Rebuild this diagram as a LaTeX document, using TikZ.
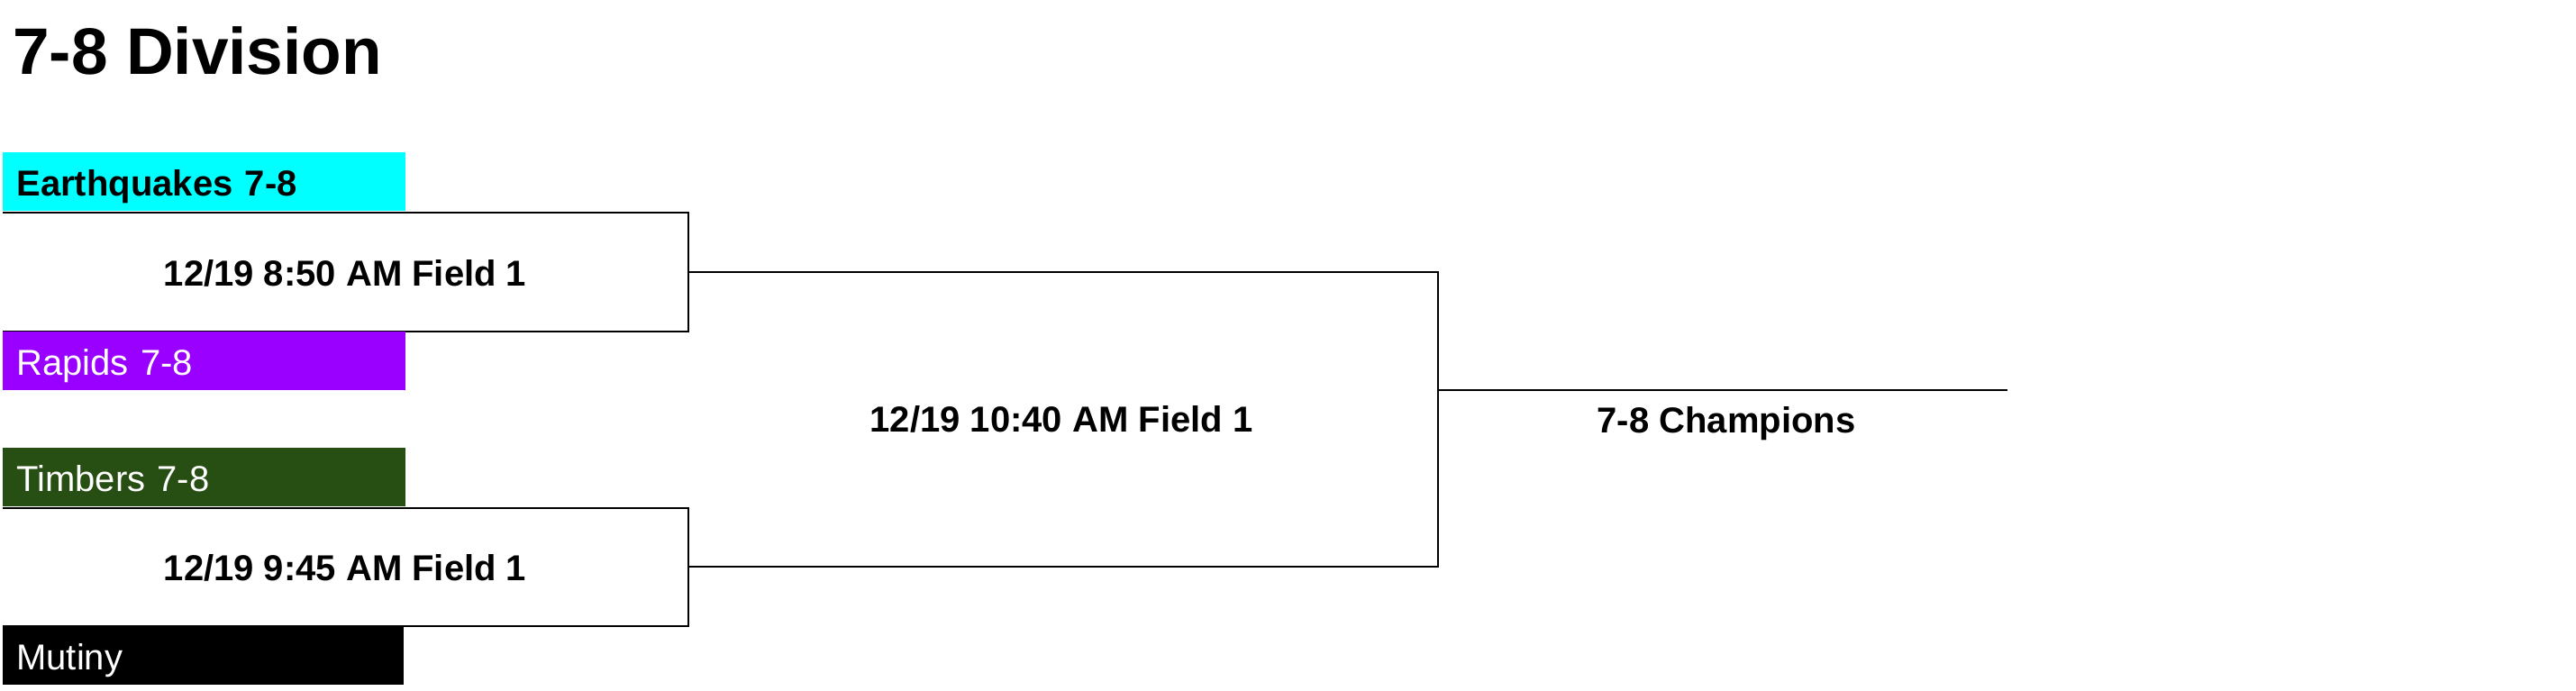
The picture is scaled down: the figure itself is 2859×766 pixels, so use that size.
\documentclass[tikz,border=0pt]{standalone}
\usepackage{fontspec}
\setmainfont{Liberation Sans}
\definecolor{eqcyan}{RGB}{0,255,255}
\definecolor{rapurple}{RGB}{153,0,255}
\definecolor{timgreen}{RGB}{39,78,19}
\begin{document}
\begin{tikzpicture}[x=0.5pt,y=-0.5pt,
  team/.style={rectangle, anchor=north west, minimum height=32.5pt,
    text width=208.5pt, inner xsep=7.5pt, inner ysep=0pt, align=left,
    text height=16pt, text depth=0pt, font=\fontsize{20pt}{22pt}\selectfont},
  match/.style={font=\fontsize{20pt}{22pt}\selectfont\bfseries, inner sep=0pt,
    text height=15.5pt, text depth=0pt},
  bline/.style={line width=1.3pt, black}]
\useasboundingbox (0,0) rectangle (2859,766);
\node[anchor=base west, inner sep=0pt, font=\fontsize{36.5pt}{40pt}\selectfont\bfseries] (title) at (14,82) {7-8 Division};
% bracket corners
\coordinate (r1a) at (3,236);
\coordinate (r1b) at (764,236);
\coordinate (r1c) at (764,368);
\coordinate (r1d) at (3,368);
\coordinate (r1e) at (3,564);
\coordinate (r1f) at (764,564);
\coordinate (r1g) at (764,695);
\coordinate (r1h) at (3,695);
\coordinate (w1) at (764,302);
\coordinate (w2) at (764,629);
\coordinate (r2a) at (1596,302);
\coordinate (r2b) at (1596,629);
\coordinate (r2c) at (1596,433);
\coordinate (champ) at (2228,433);
\draw[bline] (r1a) -- (r1b) -- (r1c) -- (r1d);
\draw[bline] (r1e) -- (r1f) -- (r1g) -- (r1h);
\draw[bline] (w1) -- (r2a) -- (r2b) -- (w2);
\draw[bline] (r2c) -- (champ);
% teams
\node[team, fill=eqcyan, font=\fontsize{20pt}{22pt}\selectfont\bfseries] (t1) at (3,169) {Earthquakes 7-8};
\node[team, fill=rapurple, text=white] (t2) at (3,368) {Rapids 7-8};
\node[team, fill=timgreen, text=white] (t3) at (3,497) {Timbers 7-8};
\node[team, fill=black, text=white, text width=207.5pt] (t4) at (3,695) {Mutiny};
% matches
\node[match] (m1) at (383,302) {12/19 8:50 AM Field 1};
\node[match] (m2) at (383,629) {12/19 9:45 AM Field 1};
\node[match] (m3) at (1178,464) {12/19 10:40 AM Field 1};
\node[match] (m4) at (1916,465) {7-8 Champions};
\end{tikzpicture}
\end{document}
